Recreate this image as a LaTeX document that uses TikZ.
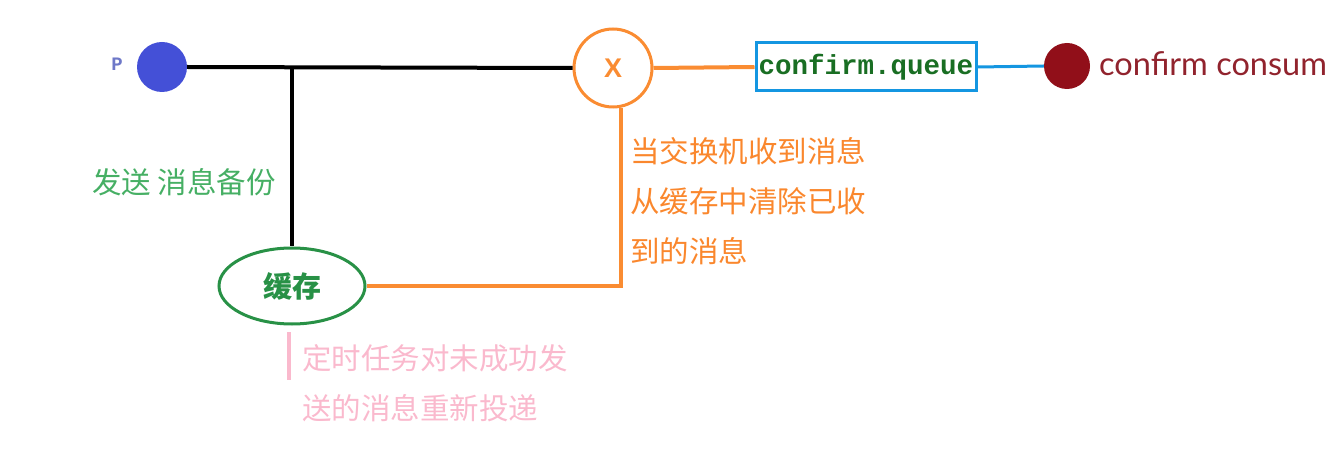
\documentclass[tikz,border=0pt]{standalone}
\usepackage{fontspec}
\setmainfont{Liberation Sans}
\newfontfamily\cjk{Noto Sans CJK SC}
\newfontfamily\lato{Lato}
\newfontfamily\monob{Liberation Mono}
\usetikzlibrary{shapes.geometric}
\definecolor{pblue}{RGB}{68,80,215}
\definecolor{plabel}{RGB}{110,120,200}
\definecolor{xorange}{RGB}{250,140,50}
\definecolor{qblue}{RGB}{20,150,225}
\definecolor{qgreen}{RGB}{25,110,35}
\definecolor{cred}{RGB}{145,15,25}
\definecolor{ctext}{RGB}{145,35,45}
\definecolor{cgreen}{RGB}{40,145,70}
\definecolor{sendgreen}{RGB}{70,175,100}
\definecolor{pinkc}{RGB}{250,185,205}
\definecolor{otext}{RGB}{250,135,45}
\tikzset{
  dot/.style={circle, inner sep=0pt},
  wire/.style={line width=4pt},
  note/.style={inner sep=0pt, align=left, anchor=west, font=\cjk\fontsize{29.5}{50}\selectfont},
}
\begin{document}
\begin{tikzpicture}[x=1pt,y=-1pt]
\useasboundingbox (0,0) rectangle (1331,449);
% nodes
\node[dot, fill=pblue, minimum size=50pt] (p) at (162,67) {};
\node[inner sep=0pt, text=plabel, font=\monob\bfseries\fontsize{19}{19}\selectfont] (plab) at (117,64) {P};
\node[dot, draw=xorange, line width=3pt, minimum size=78pt, text=xorange, font=\bfseries\fontsize{27}{27}\selectfont] (x) at (613,68) {X};
\node[draw=qblue, line width=3pt, minimum width=220pt, minimum height=48pt, inner sep=0pt, text=qgreen, font=\monob\bfseries\fontsize{27.5}{27.5}\selectfont] (q) at (866,67) {confirm.queue};
\node[dot, fill=cred, minimum size=46pt] (c) at (1067,66) {};
\node[anchor=west, inner sep=0pt, text=ctext, font=\lato\fontsize{32.5}{32.5}\selectfont] (ct) at (1099,64) {confirm consum};
\node[ellipse, draw=cgreen, line width=3pt, minimum width=146pt, minimum height=76pt, text=cgreen, font=\cjk\bfseries\fontsize{29}{29}\selectfont] (cache) at (292,286) {缓存};
\node[note, text=sendgreen] (send) at (92,182) {发送 消息备份};
\node[note, text=otext] (onote) at (630,201) {当交换机收到消息\\从缓存中清除已收\\到的消息};
\node[note, text=pinkc] (pnote) at (302,383) {定时任务对未成功发\\送的消息重新投递};
\coordinate (b) at (292,67);
\coordinate (pk1) at (289,332);
\coordinate (pk2) at (289,380);
% connectors
\draw[wire, black] (p.east) -- (x.west);
\draw[wire, black] (b) -- (cache.north);
\draw[wire, xorange] (x.east) -- (q.west);
\draw[wire, xorange] (cache.east) -| (x.-79);
\draw[wire, qblue, line width=3pt] (q.east) -- (c.west);
\draw[wire, pinkc] (pk1) -- (pk2);
\end{tikzpicture}
\end{document}
